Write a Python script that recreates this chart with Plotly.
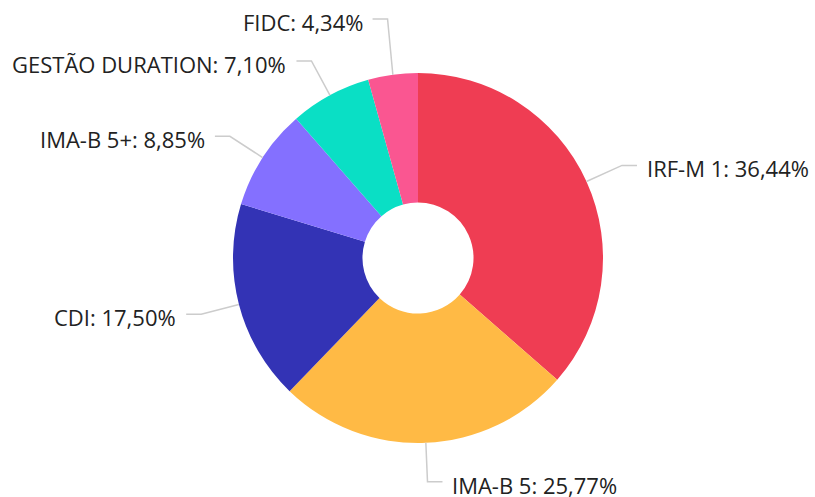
import math
import plotly.graph_objects as go

categories = ["IRF-M 1", "IMA-B 5", "CDI", "IMA-B 5+", "GESTÃO DURATION", "FIDC"]
values = [36.44, 25.77, 17.50, 8.85, 7.10, 4.34]
colors = ["#EF3D53", "#FFBA45", "#3333B5", "#8470FF", "#0ADFC5", "#FA5691"]

W, H = 815, 497
CX, CY, R = 418, 258, 185
ELBOW_R = 224
HSEG = 15
GAP = 8
MIN_DY = 42

fig = go.Figure(go.Pie(
    labels=categories, values=values, sort=False, direction="clockwise",
    rotation=0, hole=0.3, textinfo="none", hoverinfo="label+percent",
    marker=dict(colors=colors, line=dict(width=0)),
    domain=dict(x=[(CX - R) / W, (CX + R) / W], y=[(H - CY - R) / H, (H - CY + R) / H]),
    showlegend=False,
))

total = sum(values)
cum = 0
items = []
for cat, v in zip(categories, values):
    mid = (cum + v / 2) / total * 2 * math.pi
    cum += v
    s, c = math.sin(mid), math.cos(mid)
    ex, ey = CX + R * s, CY - R * c
    bx, by = CX + ELBOW_R * s, CY - ELBOW_R * c
    side = 1 if s >= 0 else -1
    items.append(dict(cat=cat, v=v, ex=ex, ey=ey, bx=bx, by=by, side=side))

# simple overlap avoidance per side: push labels upward (processing bottom to top)
for side in (1, -1):
    grp = sorted([it for it in items if it["side"] == side], key=lambda it: -it["by"])
    for i in range(1, len(grp)):
        if grp[i - 1]["by"] - grp[i]["by"] < MIN_DY:
            grp[i]["by"] = grp[i - 1]["by"] - MIN_DY

def px(x):
    return x / W

def py(y):
    return 1 - y / H

shapes = []
annotations = []
for it in items:
    hx = it["bx"] + it["side"] * HSEG
    path = f"M {px(it['ex'])} {py(it['ey'])} L {px(it['bx'])} {py(it['by'])} L {px(hx)} {py(it['by'])}"
    shapes.append(dict(type="path", path=path, xref="paper", yref="paper",
                       line=dict(color="#CCCCCC", width=1.5)))
    label = f"{it['cat']}: {it['v']:.2f}%".replace(".", ",")
    annotations.append(dict(
        x=px(hx + it["side"] * GAP), y=py(it["by"] + 3), xref="paper", yref="paper",
        text=label, showarrow=False,
        xanchor="left" if it["side"] > 0 else "right", yanchor="middle",
        font=dict(family="Open Sans", size=22, color="#222222"),
    ))

fig.update_layout(
    width=W, height=H, margin=dict(l=0, r=0, t=0, b=0),
    paper_bgcolor="white", plot_bgcolor="white",
    shapes=shapes, annotations=annotations,
)

fig.write_html("out.html", config={"displayModeBar": False},
               post_script="document.body.style.margin='0';")
